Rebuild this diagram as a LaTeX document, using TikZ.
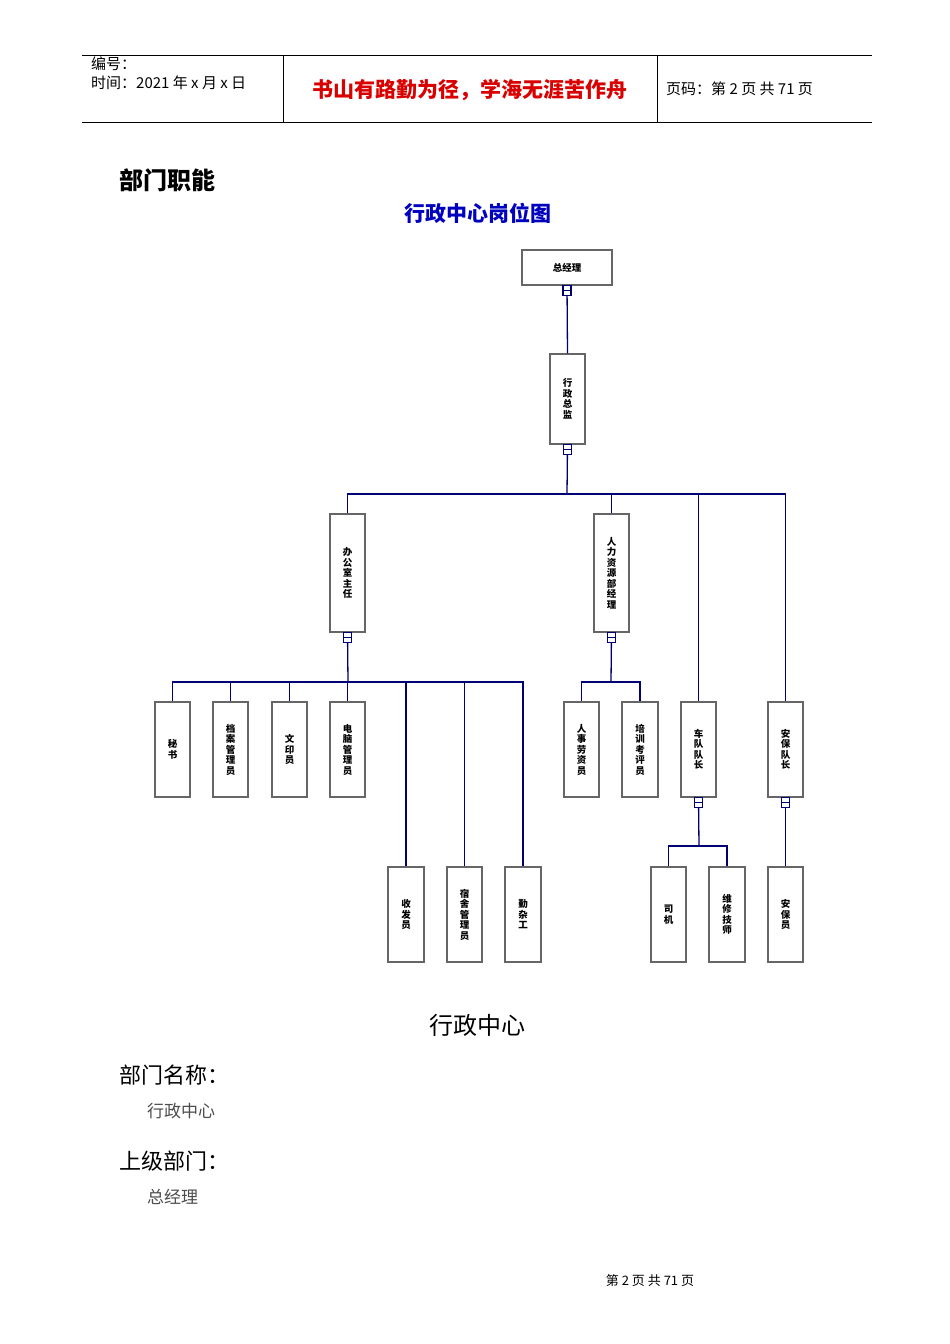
\documentclass[tikz,border=0pt]{standalone}
\usepackage{fontspec}
\setmainfont{Noto Sans CJK SC}
\begin{document}
\begin{tikzpicture}[x=1pt,y=-1pt,
 box/.style={draw=gray!80!black,line width=1.4pt,fill=white,inner sep=0pt,font=\fontsize{9.5}{10.5}\selectfont\bfseries,align=center},
 con/.style={draw=blue!45!black,line width=1.3pt},
 sq/.style={draw=blue!45!black,line width=1.2pt,fill=white,minimum width=8pt,minimum height=10pt,inner sep=0pt}]
\useasboundingbox (0,0) rectangle (950,1344);
% header
\draw[line width=0.8pt] (82,55) -- (872,55) (82,122) -- (872,122) (283,55) -- (283,122) (657,55) -- (657,122);
\node[anchor=north west,font=\fontsize{15}{19}\selectfont,align=left,inner sep=0pt] (h1) at (91,57) {编号：\\时间：2021 年 x 月 x 日};
\node[font=\fontsize{21}{24}\selectfont\bfseries,text=red!85!black] (h2) at (470,90) {书山有路勤为径，学海无涯苦作舟};
\node[anchor=west,font=\fontsize{15}{18}\selectfont,inner sep=0pt] (h3) at (666,89) {页码：第 2 页 共 71 页};
\node[anchor=west,font=\fontsize{24}{26}\selectfont\bfseries,inner sep=0pt] (t1) at (119,180) {部门职能};
\node[font=\fontsize{21}{24}\selectfont\bfseries,text=blue!75!black] (t2) at (478,213) {行政中心岗位图};
% boxes
\newcommand{\bx}[6]{\node[box,minimum width=#3-#2,minimum height=#5-#4] (#1) at ({(#2+#3)/2},{(#4+#5)/2}) {#6};}
\bx{zjl}{522}{612}{250}{285}{总经理}
\bx{xzzj}{550}{585}{354}{444}{行\\政\\总\\监}
\bx{bgs}{330}{365}{514}{632}{办\\公\\室\\主\\任}
\bx{rl}{594}{629}{514}{632}{人\\力\\资\\源\\部\\经\\理}
\bx{cd}{681}{716}{702}{797}{车\\队\\队\\长}
\bx{ab}{768}{803}{702}{797}{安\\保\\队\\长}
\bx{ms}{155}{190}{702}{797}{秘\\书}
\bx{da}{213}{248}{702}{797}{档\\案\\管\\理\\员}
\bx{wy}{272}{307}{702}{797}{文\\印\\员}
\bx{dn}{330}{365}{702}{797}{电\\脑\\管\\理\\员}
\bx{sf}{388}{424}{867}{962}{收\\发\\员}
\bx{ss}{447}{482}{867}{962}{宿\\舍\\管\\理\\员}
\bx{qz}{505}{541}{867}{962}{勤\\杂\\工}
\bx{rs}{564}{599}{702}{797}{人\\事\\劳\\资\\员}
\bx{px}{622}{658}{702}{797}{培\\训\\考\\评\\员}
\bx{sj}{651}{686}{867}{962}{司\\机}
\bx{wx}{709}{745}{867}{962}{维\\修\\技\\师}
\bx{aby}{768}{803}{867}{962}{安\\保\\员}
% connectors
\coordinate (b1) at (567,494);
\draw[con] (zjl.south) -- (xzzj.north);
\draw[con] (xzzj.south) -- (b1);
\draw[con] (bgs.north) |- (b1) -| (ab.north);
\draw[con] (rl.north) -- (rl.north|-b1);
\draw[con] (cd.north) -- (cd.north|-b1);
\coordinate (b2) at (348,682);
\draw[con] (bgs.south) -- (b2);
\draw[con] (ms.north) |- (b2) -| (qz.north);
\foreach \n in {da,wy,dn,sf,ss}{\draw[con] (\n.north) -- (\n.north|-b2);}
\coordinate (b3) at (611,682);
\draw[con] (rl.south) -- (b3);
\draw[con] (rs.north) |- (b3) -| (px.north);
\coordinate (b4) at (699,846);
\draw[con] (cd.south) -- (b4);
\draw[con] (sj.north) |- (b4) -| (wx.north);
\draw[con] (ab.south) -- (aby.north);
\foreach \n in {zjl,xzzj,bgs,rl,cd,ab}{\node[sq,anchor=north] (q\n) at ([yshift=1pt]\n.south) {}; \draw[con] (q\n.west) -- (q\n.east);}
% bottom texts
\node[font=\fontsize{24}{26}\selectfont] (c1) at (477,1025) {行政中心};
\node[anchor=west,font=\fontsize{22}{24}\selectfont,inner sep=0pt] (c2) at (119,1075) {部门名称：};
\node[anchor=west,font=\fontsize{17}{19}\selectfont,text=black!70,inner sep=0pt] (c3) at (147,1111) {行政中心};
\node[anchor=west,font=\fontsize{22}{24}\selectfont,inner sep=0pt] (c4) at (119,1161) {上级部门：};
\node[anchor=west,font=\fontsize{17}{19}\selectfont,text=black!70,inner sep=0pt] (c5) at (147,1197) {总经理};
\node[font=\fontsize{13}{15}\selectfont] (f) at (650,1281) {第 2 页 共 71 页};
\end{tikzpicture}
\end{document}
